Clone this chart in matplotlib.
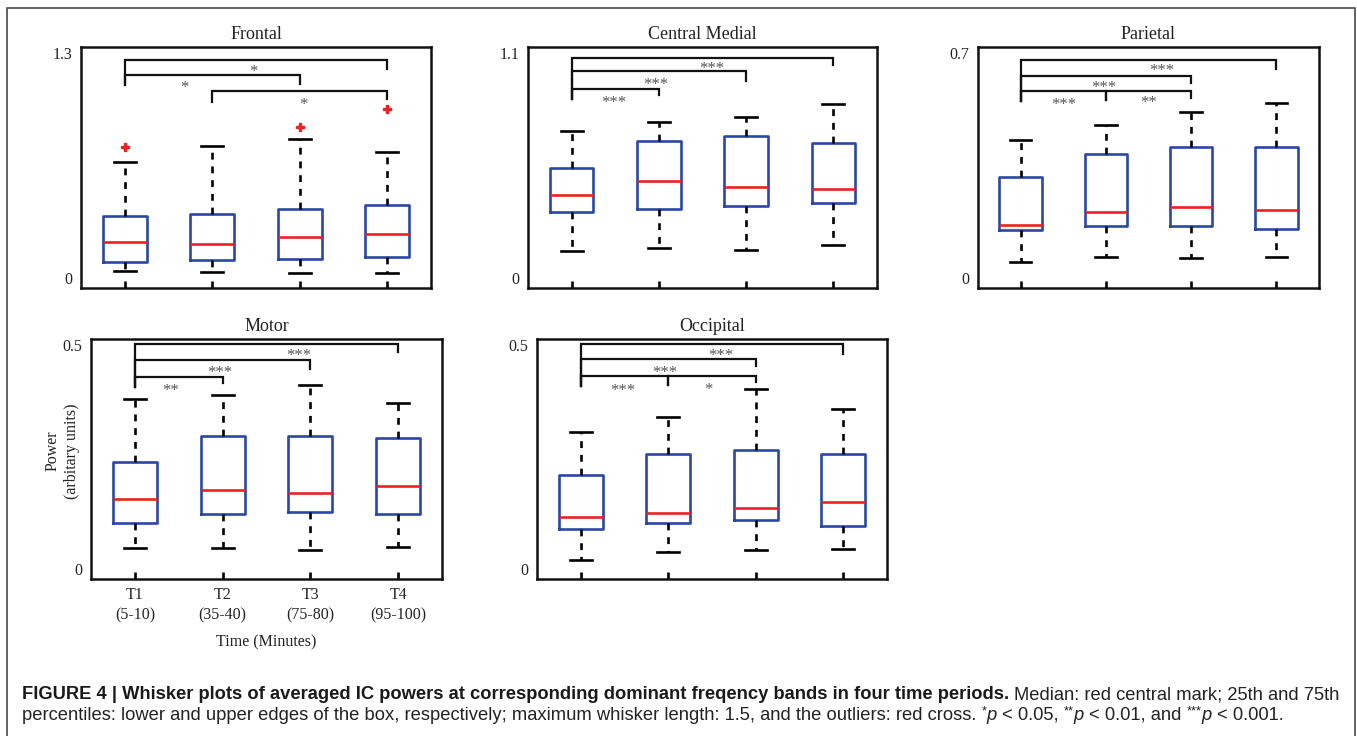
import matplotlib
matplotlib.use('Agg')
import matplotlib.pyplot as plt
from matplotlib.lines import Line2D
from matplotlib.transforms import offset_copy

W, H, DPI = 1357, 736, 100

# ---------------- data ----------------
regions = ['Frontal', 'Central Medial', 'Parietal', 'Motor', 'Occipital']
time_labels = ['T1\n(5-10)', 'T2\n(35-40)', 'T3\n(75-80)', 'T4\n(95-100)']
y_max = [1.3, 1.1, 0.7, 0.5, 0.5]
y_max_labels = ['1.3', '1.1', '0.7', '0.5', '0.5']

whisker_low = [
    [0.092, 0.085, 0.081, 0.083],
    [0.170, 0.183, 0.173, 0.194],
    [0.076, 0.090, 0.087, 0.089],
    [0.065, 0.064, 0.061, 0.067],
    [0.040, 0.056, 0.060, 0.063],
]
q1 = [
    [0.140, 0.149, 0.155, 0.166],
    [0.348, 0.362, 0.372, 0.386],
    [0.169, 0.179, 0.179, 0.172],
    [0.117, 0.135, 0.140, 0.136],
    [0.104, 0.117, 0.122, 0.111],
]
median = [
    [0.250, 0.237, 0.273, 0.290],
    [0.423, 0.490, 0.461, 0.453],
    [0.183, 0.222, 0.236, 0.227],
    [0.166, 0.185, 0.180, 0.193],
    [0.130, 0.138, 0.147, 0.161],
]
q3 = [
    [0.388, 0.397, 0.424, 0.448],
    [0.549, 0.669, 0.695, 0.663],
    [0.323, 0.388, 0.410, 0.410],
    [0.244, 0.298, 0.297, 0.293],
    [0.216, 0.261, 0.268, 0.261],
]
whisker_high = [
    [0.678, 0.764, 0.805, 0.732],
    [0.715, 0.756, 0.782, 0.840],
    [0.431, 0.474, 0.512, 0.538],
    [0.375, 0.383, 0.404, 0.366],
    [0.307, 0.337, 0.395, 0.354],
]
outliers = [
    [[0.760], [], [0.870], [0.964]],
    [[], [], [], []],
    [[], [], [], []],
    [[], [], [], []],
    [[], [], [], []],
]

# significance brackets: (from, to, p-label)
comparisons = [
    [(1, 4, '*'), (1, 3, '*'), (2, 4, '*')],
    [(1, 4, '***'), (1, 3, '***'), (1, 2, '***')],
    [(1, 4, '***'), (1, 3, '***'), (1, 2, '***'), (2, 3, '**')],
    [(1, 4, '***'), (1, 3, '***'), (1, 2, '**')],
    [(1, 4, '***'), (1, 3, '***'), (1, 2, '***'), (2, 3, '*')],
]
# bracket geometry: (bar height, left leg end, right leg end, label x, label y)
bracket_geom = [
    [(1.228, 1.095, 1.181, 2.47, 1.187), (1.147, 1.095, 1.100, 1.68, 1.100),
     (1.063, 1.003, 1.019, 3.04, 1.009)],
    [(1.051, 0.864, 1.020, 2.61, 1.021), (0.989, 0.864, 0.946, 1.96, 0.946),
     (0.910, 0.864, 0.882, 1.48, 0.864)],
    [(0.662, 0.543, 0.636, 2.66, 0.643), (0.617, 0.543, 0.595, 1.98, 0.594),
     (0.573, 0.543, 0.547, 1.50, 0.544), (0.573, 0.547, 0.553, 2.50, 0.550)],
    [(0.489, 0.401, 0.473, 2.87, 0.473), (0.456, 0.401, 0.437, 1.97, 0.438),
     (0.421, 0.401, 0.409, 1.41, 0.401)],
    [(0.4896, 0.402, 0.469, 2.60, 0.473), (0.458, 0.402, 0.443, 1.96, 0.439),
     (0.423, 0.402, 0.404, 1.48, 0.401), (0.423, 0.404, 0.410, 2.46, 0.402)],
]

# axes rectangles in pixels: left, right, top, bottom
axes_px = [
    (81, 431, 47, 288),
    (528, 877, 47, 288),
    (978, 1319, 47, 288),
    (91, 442, 339, 579),
    (537, 887, 339, 579),
]

BLUE = '#2b47a6'
RED = '#ee2020'
SERIF = 'Liberation Serif'

fig = plt.figure(figsize=(W / DPI, H / DPI), dpi=DPI)

for k, name in enumerate(regions):
    l, r, t, b = axes_px[k]
    ax = fig.add_axes([l / W, 1 - b / H, (r - l) / W, (b - t) / H])
    stats = []
    for i in range(4):
        stats.append(dict(med=median[k][i], q1=q1[k][i], q3=q3[k][i],
                          whislo=whisker_low[k][i], whishi=whisker_high[k][i],
                          fliers=outliers[k][i]))
    ax.bxp(stats, positions=[1, 2, 3, 4], widths=0.5, capwidths=0.25,
           boxprops=dict(color=BLUE, linewidth=1.9),
           medianprops=dict(color=RED, linewidth=1.9),
           whiskerprops=dict(color='black', linewidth=1.9, linestyle=(0, (2.6, 2.6))),
           capprops=dict(color='black', linewidth=1.9),
           flierprops=dict(marker='P', markerfacecolor=RED, markeredgecolor=RED,
                           markersize=5.5, linestyle='none'))
    ax.set_xlim(0.5, 4.5)
    ax.set_ylim(0, y_max[k])
    for s in ax.spines.values():
        s.set_linewidth(1.8)
        s.set_color('#111111')
    ax.set_yticks([0, y_max[k]])
    ax.set_yticklabels(['0', y_max_labels[k]], fontfamily=SERIF, fontsize=11.5,
                       color='#222222')
    ytl = ax.get_yticklabels()
    ytl[0].set_va('bottom')
    ytl[1].set_va('top')
    ax.tick_params(axis='y', length=0, pad=6)
    ax.set_xticks([1, 2, 3, 4])
    ax.tick_params(axis='x', direction='in', length=5, width=1.9, color='black', pad=6)
    if name == 'Motor':
        ax.set_xticklabels(time_labels, fontfamily=SERIF, fontsize=11.5,
                           color='#222222', linespacing=1.3)
        ax.set_xlabel('Time (Minutes)', fontfamily=SERIF, fontsize=11.5,
                      color='#222222', labelpad=8)
        ax.set_ylabel('Power\n(arbitary units)', fontfamily=SERIF, fontsize=11.5,
                      color='#222222', linespacing=1.25)
        ax.yaxis.set_label_coords(-0.032, 0.533)
    else:
        ax.set_xticklabels([])
    ax.set_title(name, fontfamily=SERIF, fontsize=13, color='#222222', pad=6)

    star_tr = offset_copy(ax.transData, fig=fig, x=0, y=-6.0, units='points')
    for (i, j, lab), (bar, leg1, leg2, lx, ly) in zip(comparisons[k], bracket_geom[k]):
        ax.plot([i, i, j, j], [leg1, bar, bar, leg2], color='#111111',
                linewidth=1.6, solid_joinstyle='miter', clip_on=False)
        ax.text(lx, ly, lab, transform=star_tr, ha='center', va='baseline',
                fontfamily=SERIF, fontsize=12, color='#555555')

# outer frame (left, top, right)
fig.add_artist(Line2D([7 / W, 7 / W, 1354.5 / W, 1354.5 / W],
                      [0, 1 - 8 / H, 1 - 8 / H, 0], transform=fig.transFigure,
                      color='#555555', linewidth=1.3))

# caption
SANS = 'Liberation Sans'
CAP_FS = 13.2
renderer = fig.canvas.get_renderer()


def space_w(weight='normal', style='normal'):
    a = fig.text(0, 0, 'x x', fontfamily=SANS, fontsize=CAP_FS, weight=weight, style=style)
    c = fig.text(0, 0, 'xx', fontfamily=SANS, fontsize=CAP_FS, weight=weight, style=style)
    w = a.get_window_extent(renderer).width - c.get_window_extent(renderer).width
    a.remove()
    c.remove()
    return w


SP = space_w()
SPB = space_w('bold')


def draw_runs(x0, base_y, runs):
    x = x0
    for txt, sty in runs:
        if txt == ' ':
            x += SPB if sty == 'b' else SP
            continue
        kw = dict(fontfamily=SANS, fontsize=CAP_FS, color='#222222')
        y = base_y
        if sty == 'b':
            kw['weight'] = 'bold'
            kw['color'] = '#1a1a1a'
        elif sty == 'i':
            kw['style'] = 'italic'
        elif sty == 'sup':
            kw['fontsize'] = CAP_FS * 0.7
            y = base_y - 6
        tt = fig.text(x / W, 1 - y / H, txt, ha='left', va='baseline', **kw)
        x += tt.get_window_extent(renderer).width


draw_runs(22, 699, [
    ('FIGURE 4 | Whisker plots of averaged IC powers at corresponding dominant '
     'freqency bands in four time periods.', 'b'),
    (' ', 'b'),
    ('Median: red central mark; 25th and 75th', 'r'),
])
draw_runs(22, 720, [
    ('percentiles: lower and upper edges of the box, respectively; maximum whisker '
     'length: 1.5, and the outliers: red cross.', 'r'),
    (' ', 'r'), ('*', 'sup'), ('p', 'i'), (' ', 'r'), ('< 0.05,', 'r'),
    (' ', 'r'), ('**', 'sup'), ('p', 'i'), (' ', 'r'), ('< 0.01, and', 'r'),
    (' ', 'r'), ('***', 'sup'), ('p', 'i'), (' ', 'r'), ('< 0.001.', 'r'),
])

fig.savefig('out.png', dpi=DPI)
